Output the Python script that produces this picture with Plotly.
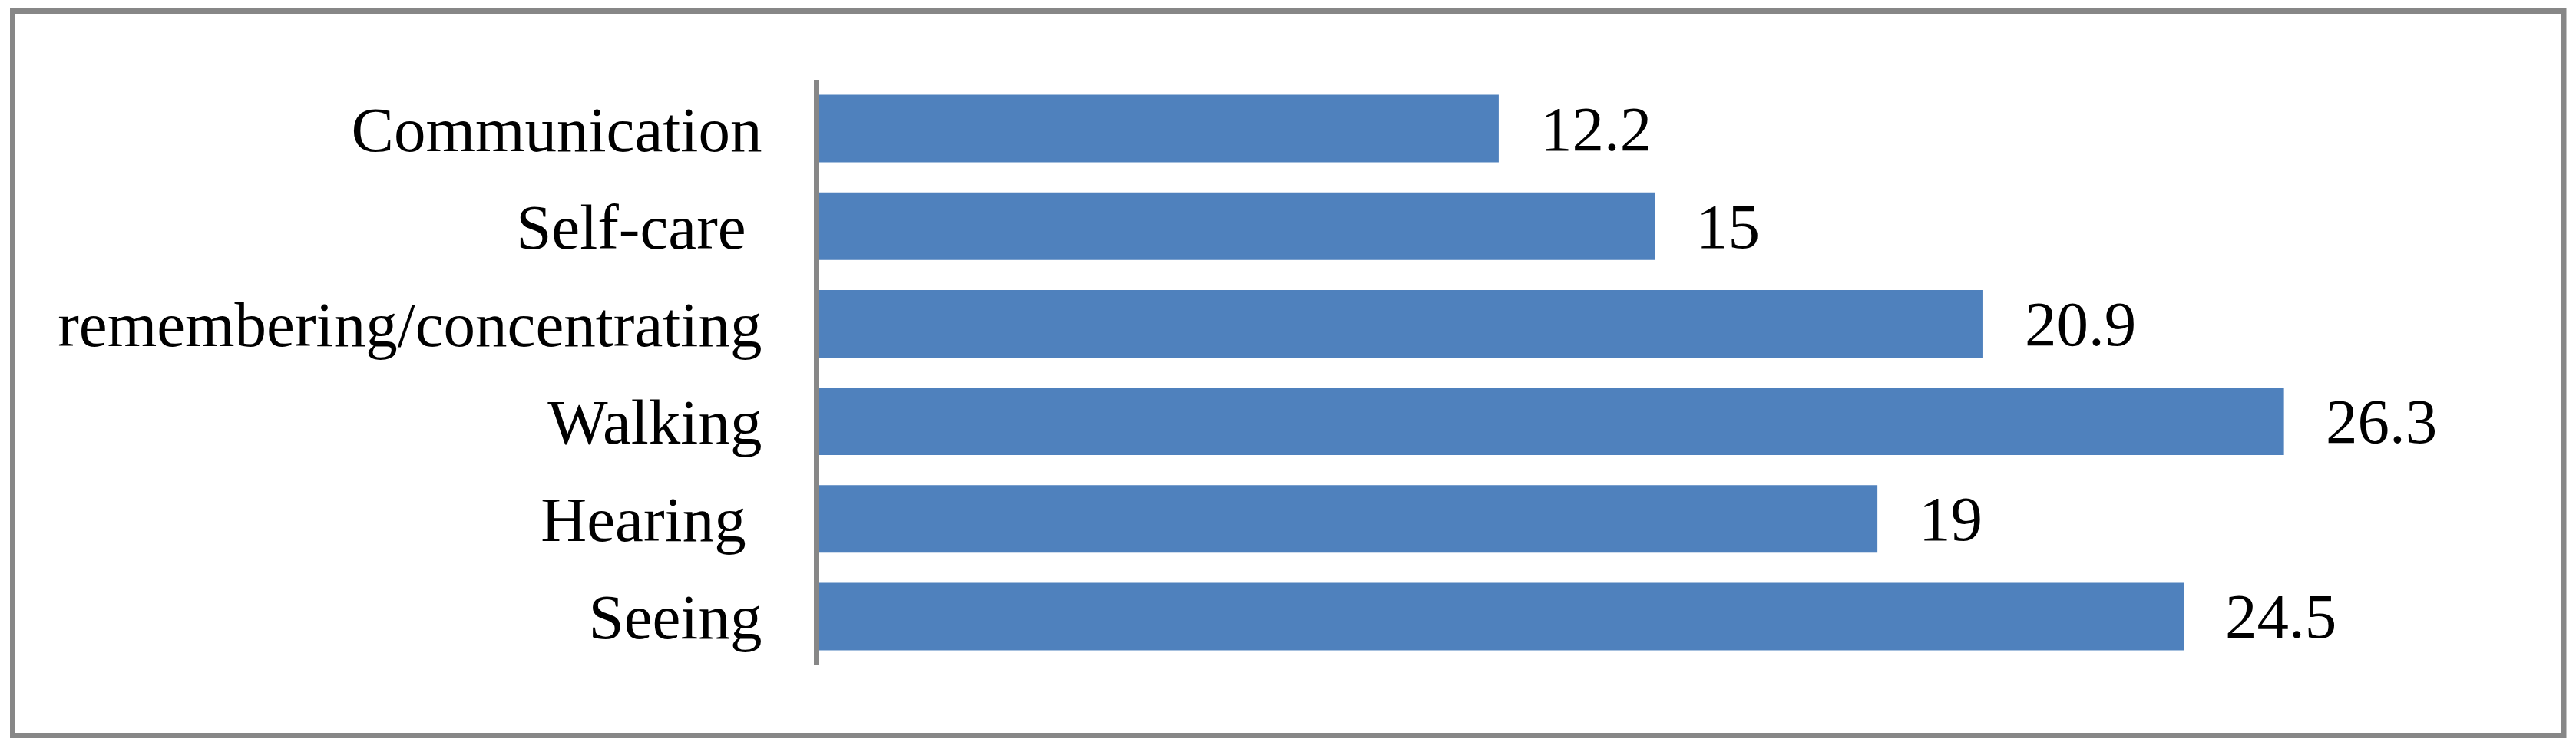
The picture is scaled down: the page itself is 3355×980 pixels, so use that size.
import plotly.graph_objects as go

# Categories listed top to bottom, as in the chart
categories = ["Communication", "Self-care\u00a0", "remembering/concentrating",
              "Walking", "Hearing\u00a0", "Seeing"]
values = [12.2, 15, 20.9, 26.3, 19, 24.5]
value_labels = ["12.2", "15", "20.9", "26.3", "19", "24.5"]

W, H = 3355, 980
OFF = 8  # page body margin shifts the figure by this much
L, T = 1067 - OFF, 104 - OFF
PW, PH = 2176, 763
R, B = W - L - PW, H - T - PH
FONT = "Liberation Serif, Times New Roman, serif"


def px(x):
    return (x - OFF - L) / PW


def py(y):
    return (H - B - (y - OFF)) / PH


fig = go.Figure(go.Bar(
    x=values,
    y=categories,
    orientation="h",
    marker=dict(color="#4F81BD", line=dict(width=0)),
    hoverinfo="skip",
))

# value labels to the right of each bar
for cat, val, lab in zip(categories, values, value_labels):
    fig.add_annotation(x=val, y=cat, text=lab, showarrow=False,
                       xanchor="left", yanchor="middle", xshift=52,
                       font=dict(family=FONT, size=83, color="black"))

# chart outer border
fig.add_shape(type="rect", xref="paper", yref="paper",
              x0=px(16.5), x1=px(3339), y0=py(958.5), y1=py(14.5),
              line=dict(color="#878787", width=7), fillcolor="rgba(0,0,0,0)",
              layer="below")

fig.update_layout(
    width=W, height=H,
    margin=dict(l=L, r=R, t=T, b=B, autoexpand=False),
    plot_bgcolor="white",
    paper_bgcolor="white",
    bargap=0.308,
    showlegend=False,
    font=dict(family=FONT, size=83, color="black"),
    xaxis=dict(range=[0, 30], visible=False, showgrid=False, zeroline=False),
    yaxis=dict(
        autorange="reversed",
        showline=True, linecolor="#878787", linewidth=7,
        showgrid=False, zeroline=False, ticks="",
        ticklabelstandoff=51,
        tickfont=dict(family=FONT, size=83, color="black"),
    ),
)

fig.write_html("out.html")
